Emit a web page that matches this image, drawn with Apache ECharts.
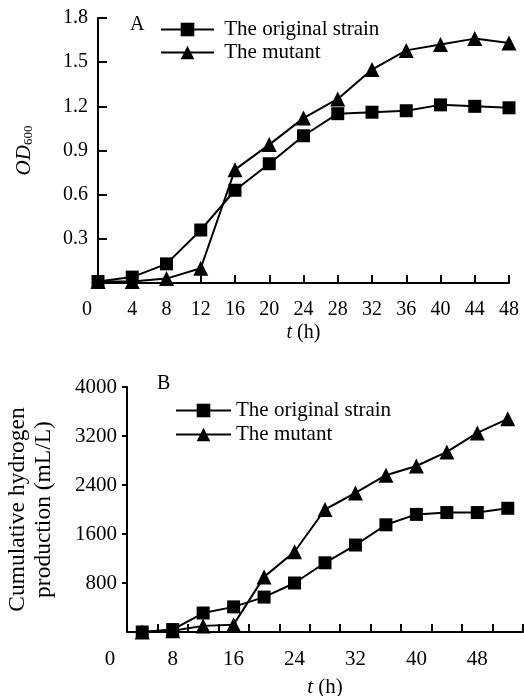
<!DOCTYPE html>
<html>
<head>
<meta charset="utf-8">
<script src="https://cdn.jsdelivr.net/npm/echarts@6/dist/echarts.min.js"></script>
<style>
  html, body { margin: 0; padding: 0; background: #fff; }
  #chart { width: 524px; height: 696px; }
</style>
</head>
<body>
<div id="chart"></div>
<script>
// panel A: OD600 growth curves
var timeA = [0, 4, 8, 12, 16, 20, 24, 28, 32, 36, 40, 44, 48];
var originalA = [0.01, 0.04, 0.13, 0.36, 0.63, 0.81, 1.0, 1.15, 1.16, 1.17, 1.21, 1.2, 1.19];
var mutantA = [0.01, 0.01, 0.03, 0.1, 0.77, 0.94, 1.12, 1.25, 1.45, 1.58, 1.62, 1.66, 1.63];

// panel B: cumulative hydrogen production
var timeB = [4, 8, 12, 16, 20, 24, 28, 32, 36, 40, 44, 48, 52];
var originalB = [0, 40, 310, 410, 570, 800, 1130, 1420, 1750, 1920, 1950, 1950, 2020];
var mutantB = [0, 20, 100, 120, 900, 1310, 2000, 2270, 2560, 2710, 2940, 3250, 3480];

// tick positions / labels of panel B x axis
var ticksB = [2, 6, 10, 14, 18, 22, 26, 30, 34, 38, 42, 46, 50, 54];
var labelsB = [2, 8, 16, 24, 32, 40, 48];

var names = ["The original strain", "The mutant"];
var font = "Liberation Serif";

function pairs(xs, ys) {
  return xs.map(function (x, i) { return [x, ys[i]]; });
}

var chart = echarts.init(document.getElementById("chart"));

var axisLine = { show: true, lineStyle: { color: "#000", width: 2 } };

function lineSeries(name, idx, data, symbol, size) {
  return {
    name: name,
    type: "line",
    xAxisIndex: idx,
    yAxisIndex: idx,
    data: data,
    symbol: symbol,
    symbolSize: size,
    clip: false,
    itemStyle: { color: "#000" },
    lineStyle: { color: "#000", width: 2 },
    emphasis: { disabled: true },
    z: symbol === "rect" ? 3 : 2,
  };
}

var option = {
  animation: false,
  backgroundColor: "#fff",
  title: [
    { text: "A", left: 125, top: 10, textStyle: { fontFamily: font, fontSize: 20, fontWeight: "normal", color: "#000" } },
    { text: "B", left: 152, top: 369, textStyle: { fontFamily: font, fontSize: 20, fontWeight: "normal", color: "#000" } },
  ],
  legend: [
    {
      data: names, orient: "vertical", left: 160, top: 19, padding: 0, itemWidth: 53, itemHeight: 17, itemGap: 2,
      formatter: function (n) { return " " + n; },
      textStyle: { fontFamily: font, fontSize: 21, color: "#000" },
    },
    {
      data: names, orient: "vertical", left: 175, top: 400, padding: 0, itemWidth: 55, itemHeight: 17, itemGap: 3,
      textStyle: { fontFamily: font, fontSize: 21, color: "#000" },
    },
  ],
  grid: [
    { left: 98, top: 18, width: 411, height: 265, outerBoundsMode: "none" },
    { left: 127, top: 387, width: 396, height: 245, outerBoundsMode: "none" },
  ],
  xAxis: [
    {
      gridIndex: 0, type: "value", min: 0, max: 48, interval: 4,
      name: "{i|t} (h)", nameLocation: "middle", nameGap: 40,
      nameTextStyle: { fontFamily: font, fontSize: 20, color: "#000", rich: { i: { fontFamily: font, fontSize: 20, fontStyle: "italic" } } },
      axisLine: axisLine,
      axisTick: { show: true, inside: true, length: 8, lineStyle: { color: "#000", width: 2 } },
      splitLine: { show: false },
      axisLabel: {
        color: "#000", fontFamily: font, fontSize: 20,
        margin: 17,
        formatter: function (v) { return v === 0 ? "{z|0}" : String(v); },
        rich: { z: { fontFamily: font, fontSize: 20, color: "#000", padding: [0, 22, 0, 0] } },
      },
    },
    {
      gridIndex: 1, type: "value", min: 2, max: 54, interval: 4,
      name: "{i|t} (h)", nameLocation: "middle", nameGap: 45,
      nameTextStyle: { fontFamily: font, fontSize: 21, color: "#000", rich: { i: { fontFamily: font, fontSize: 21, fontStyle: "italic" } } },
      axisLine: axisLine,
      axisTick: { show: true, inside: true, length: 8, customValues: ticksB, lineStyle: { color: "#000", width: 2 } },
      splitLine: { show: false },
      axisLabel: {
        color: "#000", fontFamily: font, fontSize: 21,
        margin: 17,
        customValues: labelsB,
        formatter: function (v) { return v === 2 ? "{z|0}" : String(v); },
        rich: { z: { fontFamily: font, fontSize: 21, color: "#000", padding: [0, 34, 0, 0] } },
      },
    },
  ],
  yAxis: [
    {
      gridIndex: 0, type: "value", min: 0, max: 1.8, interval: 0.3,
      name: "{i|OD}{s|600}", nameLocation: "middle", nameGap: 63, nameRotate: 90,
      nameTextStyle: {
        color: "#000",
        rich: {
          i: { fontFamily: font, fontSize: 21, fontStyle: "italic", color: "#000" },
          s: { fontFamily: font, fontSize: 13, color: "#000", padding: [8, 0, 0, 0] },
        },
      },
      axisLine: axisLine,
      axisTick: { show: true, inside: true, length: 9, lineStyle: { color: "#000", width: 2 } },
      splitLine: { show: false },
      axisLabel: {
        color: "#000", fontFamily: font, fontSize: 20,
        showMinLabel: false, margin: 10,
        formatter: function (v) { return v.toFixed(1); },
      },
    },
    {
      gridIndex: 1, type: "value", min: 0, max: 4000, interval: 800,
      name: "Cumulative hydrogen\nproduction (mL/L)", nameLocation: "middle", nameGap: 70, nameRotate: 90,
      nameTextStyle: { fontFamily: font, fontSize: 23.5, color: "#000", lineHeight: 26 },
      axisLine: axisLine,
      axisTick: { show: true, inside: false, length: 5, lineStyle: { color: "#000", width: 2 } },
      splitLine: { show: false },
      axisLabel: {
        color: "#000", fontFamily: font, fontSize: 21,
        showMinLabel: false, margin: 10,
        formatter: function (v) { return String(v); },
      },
    },
  ],
  series: [
    lineSeries(names[0], 0, pairs(timeA, originalA), "rect", 13),
    lineSeries(names[1], 0, pairs(timeA, mutantA), "triangle", 15),
    lineSeries(names[0], 1, pairs(timeB, originalB), "rect", 13),
    lineSeries(names[1], 1, pairs(timeB, mutantB), "triangle", 15),
  ],
};

chart.setOption(option);
</script>
</body>
</html>
